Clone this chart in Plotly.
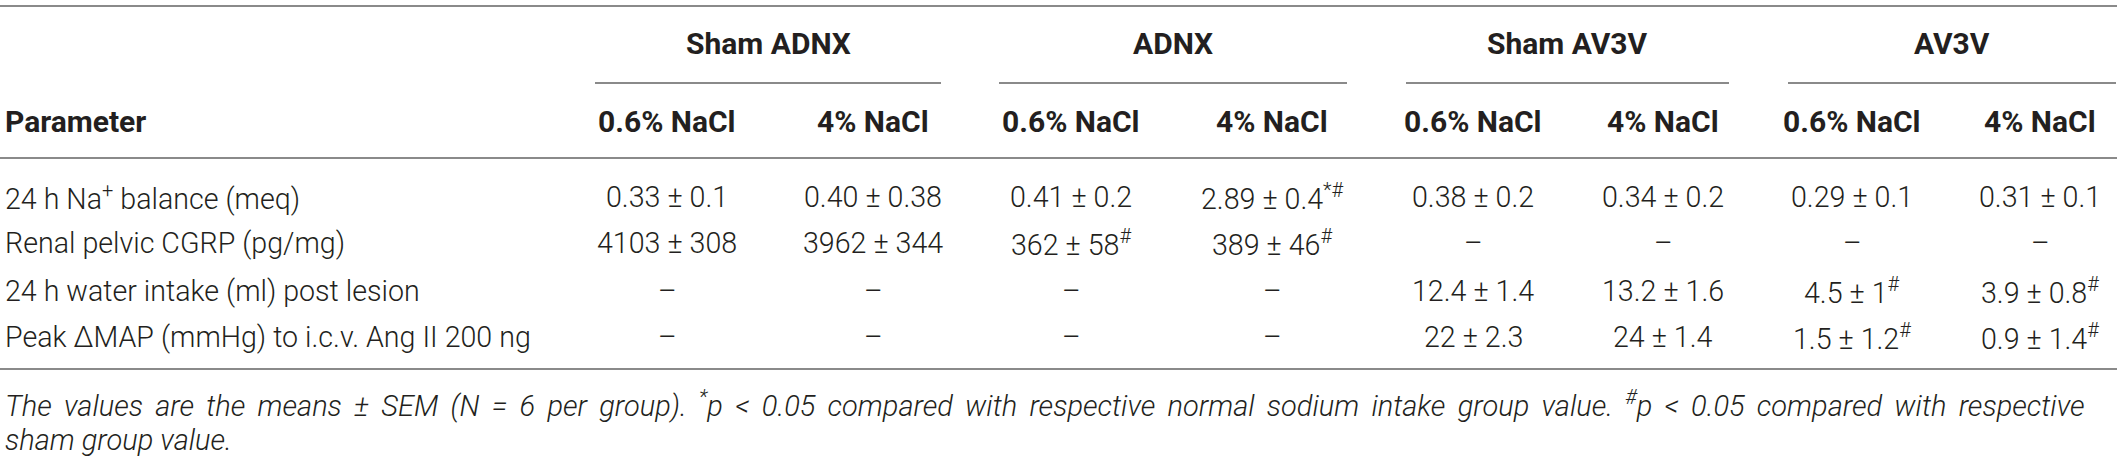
import plotly.graph_objects as go

# ---------------- data ----------------
groups = ["Sham ADNX", "ADNX", "Sham AV3V", "AV3V"]
diets = ["0.6% NaCl", "4% NaCl"]
param_header = "Parameter"
parameters = [
    "24 h Na<sup>+</sup> balance (meq)",
    "Renal pelvic CGRP (pg/mg)",
    "24 h water intake (ml) post lesion",
    "Peak ΔMAP (mmHg) to i.c.v. Ang II 200 ng",
]
# columns: ShamADNX-0.6, ShamADNX-4, ADNX-0.6, ADNX-4, ShamAV3V-0.6, ShamAV3V-4, AV3V-0.6, AV3V-4
na_balance = ["0.33 ± 0.1", "0.40 ± 0.38", "0.41 ± 0.2", "2.89 ± 0.4", "0.38 ± 0.2", "0.34 ± 0.2", "0.29 ± 0.1", "0.31 ± 0.1"]
na_marks = ["", "", "", "*#", "", "", "", ""]
cgrp = ["4103 ± 308", "3962 ± 344", "362 ± 58", "389 ± 46", "–", "–", "–", "–"]
cgrp_marks = ["", "", "#", "#", "", "", "", ""]
water = ["–", "–", "–", "–", "12.4 ± 1.4", "13.2 ± 1.6", "4.5 ± 1", "3.9 ± 0.8"]
water_marks = ["", "", "", "", "", "", "#", "#"]
dmap = ["–", "–", "–", "–", "22 ± 2.3", "24 ± 1.4", "1.5 ± 1.2", "0.9 ± 1.4"]
dmap_marks = ["", "", "", "", "", "", "#", "#"]
footnote_l1 = ("The values are the means ± SEM (N = 6 per group). <sup>*</sup>p &lt; 0.05 compared with "
               "respective normal sodium intake group value. <sup>#</sup>p &lt; 0.05 compared with respective")
footnote_l2 = "sham group value."

rows = [(na_balance, na_marks), (cgrp, cgrp_marks), (water, water_marks), (dmap, dmap_marks)]

# ---------------- layout geometry (pixels) ----------------
W, H = 2117, 462
col_centers = [667, 873, 1071, 1272, 1473, 1663, 1852, 2040]
group_spans = [(595, 941), (999, 1347), (1406, 1729), (1788, 2116)]
y_top_line = 6
y_group = 43
y_group_line = 83
y_sub = 121
y_head_line = 158
row_y = [197, 243, 291, 337]
y_bottom_line = 369
y_fn = [404, 440]

TXT = "#231f20"
LINE = "#8a8a8a"
FAM = "Roboto, Liberation Sans, Arial, sans-serif"
FS = 28.6
FS_B = 30
FS_FN = 29
JUSTIFY_SPACE = "\u2005\u2006"   # wider space to mimic the justified first footnote line

fig = go.Figure()
# invisible trace to establish axes
fig.add_trace(go.Scatter(x=[0, W], y=[0, H], mode="markers", marker=dict(opacity=0),
                         hoverinfo="skip", showlegend=False))

ann = []
def add(text, x, y, xanchor="center", bold=False, italic=False, size=FS):
    ann.append(dict(text=text, x=x, y=y, xref="x", yref="y", xanchor=xanchor, yanchor="middle",
                    showarrow=False,
                    font=dict(family=FAM, size=size, color=TXT,
                              weight=700 if bold else 300,
                              style="italic" if italic else "normal")))

# group headers
for g, (a, b) in zip(groups, group_spans):
    add(g, (a + b) / 2, y_group, bold=True, size=FS_B)
# sub headers
add(param_header, 3, y_sub, xanchor="left", bold=True, size=FS_B)
for i, cx in enumerate(col_centers):
    add(diets[i % 2], cx, y_sub, bold=True, size=FS_B)
# body
for (vals, marks), p, y in zip(rows, parameters, row_y):
    add(p, 3, y, xanchor="left")
    for v, m, cx in zip(vals, marks, col_centers):
        txt = v + (f"<sup>{m}</sup>" if m else "")
        add(txt, cx, y)
# footnote
add(footnote_l1.replace(" ", JUSTIFY_SPACE), 3, y_fn[0], xanchor="left", italic=True, size=FS_FN)
add(footnote_l2, 3, y_fn[1], xanchor="left", italic=True, size=FS_FN)

shapes = []
for yl in (y_top_line, y_head_line, y_bottom_line):
    shapes.append(dict(type="line", xref="x", yref="y", x0=0, x1=W, y0=yl, y1=yl,
                       line=dict(color=LINE, width=2)))
for a, b in group_spans:
    shapes.append(dict(type="line", xref="x", yref="y", x0=a, x1=b, y0=y_group_line, y1=y_group_line,
                       line=dict(color=LINE, width=2)))

fig.update_layout(
    width=W, height=H, margin=dict(l=0, r=0, t=0, b=0),
    paper_bgcolor="white", plot_bgcolor="white",
    xaxis=dict(range=[0, W], visible=False, fixedrange=True),
    yaxis=dict(range=[H, 0], visible=False, fixedrange=True),
    annotations=ann, shapes=shapes, showlegend=False,
)
fig.write_html("out.html", config={"displayModeBar": False},
               post_script="document.body.style.margin='0';document.body.style.overflow='hidden';")
